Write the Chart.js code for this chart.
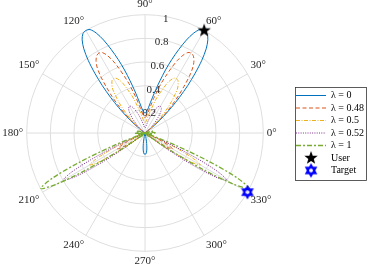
<!DOCTYPE html>
<html>
<head>
<meta charset="utf-8">
<script src="https://cdn.jsdelivr.net/npm/chart.js@4"></script>
<style>
  html, body { margin: 0; padding: 0; background: #fff; overflow: hidden; }
  #beam-chart { display: block; margin: -2px 0 0 -6px; }
</style>
</head>
<body>
<canvas id="beam-chart" width="380" height="270"></canvas>
<script>
// beam patterns, one value every 2 degrees
const angleStep = 2;
const angleTicks = [0, 30, 60, 90, 120, 150, 180, 210, 240, 270, 300, 330];
const gainTicks = [0.2, 0.4, 0.6, 0.8, 1];

// lambda = 0, 36..144 deg and back lobe 256..284 deg
const lam0Upper = [0, 0.05, 0.12, 0.21, 0.31, 0.42, 0.54, 0.66, 0.78, 0.88, 0.95, 0.99, 1,
  0.99, 0.94, 0.86, 0.76, 0.66, 0.56, 0.46, 0.38, 0.31, 0.26, 0.22, 0.195, 0.18, 0.172, 0.17,
  0.172, 0.18, 0.195, 0.22, 0.26, 0.31, 0.38, 0.46, 0.56, 0.66, 0.76, 0.86, 0.94, 0.99,
  1, 0.99, 0.95, 0.88, 0.78, 0.66, 0.54, 0.42, 0.31, 0.21, 0.12, 0.05, 0];
const lam0Back = [0, 0.03, 0.07, 0.11, 0.145, 0.168, 0.178, 0.18, 0.178, 0.168, 0.145, 0.11, 0.07, 0.03, 0];

// lambda = 0.48
const lam48Upper = [0, 0.04, 0.09, 0.16, 0.24, 0.33, 0.42, 0.51, 0.61, 0.69, 0.74, 0.77, 0.78,
  0.77, 0.73, 0.67, 0.59, 0.51, 0.44, 0.36, 0.3, 0.24, 0.2, 0.17, 0.15, 0.14, 0.134, 0.13,
  0.134, 0.14, 0.15, 0.17, 0.2, 0.24, 0.3, 0.36, 0.44, 0.51, 0.59, 0.67, 0.73, 0.77,
  0.78, 0.77, 0.74, 0.69, 0.61, 0.51, 0.42, 0.33, 0.24, 0.16, 0.09, 0.04, 0];
const lam48Lower = [0, 0.02, 0.085, 0.165, 0.235, 0.27, 0.235, 0.165, 0.085, 0.02, 0];

// lambda = 0.5
const lam50Upper = [0, 0.027, 0.064, 0.11, 0.165, 0.22, 0.29, 0.35, 0.41, 0.47, 0.5, 0.525, 0.53,
  0.525, 0.5, 0.46, 0.4, 0.35, 0.3, 0.24, 0.2, 0.165, 0.138, 0.117, 0.103, 0.095, 0.091, 0.09,
  0.091, 0.095, 0.103, 0.117, 0.138, 0.165, 0.2, 0.24, 0.3, 0.35, 0.4, 0.46, 0.5, 0.525,
  0.53, 0.525, 0.5, 0.47, 0.41, 0.35, 0.29, 0.22, 0.165, 0.11, 0.064, 0.027, 0];
const lam50Lower = [0, 0.04, 0.16, 0.32, 0.47, 0.54, 0.47, 0.32, 0.16, 0.04, 0];

// lambda = 0.52
const lam52Upper = [0, 0.013, 0.031, 0.055, 0.082, 0.11, 0.142, 0.173, 0.203, 0.229, 0.247, 0.257, 0.26,
  0.257, 0.244, 0.224, 0.198, 0.172, 0.146, 0.12, 0.099, 0.081, 0.068, 0.057, 0.051, 0.047, 0.045, 0.044,
  0.045, 0.047, 0.051, 0.057, 0.068, 0.081, 0.099, 0.12, 0.146, 0.172, 0.198, 0.224, 0.244, 0.257,
  0.26, 0.257, 0.247, 0.229, 0.203, 0.173, 0.142, 0.11, 0.082, 0.055, 0.031, 0.013, 0];
const lam52Lower = [0, 0.056, 0.23, 0.48, 0.7, 0.8, 0.7, 0.48, 0.23, 0.056, 0];

// lambda = 1, 160..230 deg and 310..380 deg (small side lobes near the origin)
const lam1Left = [0, 0.03, 0.055, 0.065, 0.05, 0.02, 0, 0.04, 0.07, 0.085, 0.085, 0.07, 0.04,
  0.005, 0.03, 0.06, 0.065, 0.05, 0.015, 0, 0.07, 0.29, 0.6, 0.87, 1, 0.87, 0.6, 0.29, 0.07, 0,
  0.03, 0.055, 0.05, 0.02, 0, 0];
const lam1Right = [0, 0, 0.02, 0.05, 0.055, 0.03, 0, 0.07, 0.29, 0.6, 0.87, 1, 0.87, 0.6, 0.29, 0.07,
  0, 0.015, 0.05, 0.065, 0.06, 0.03, 0.005, 0.04, 0.07, 0.085, 0.085, 0.07, 0.04, 0, 0.02,
  0.05, 0.065, 0.055, 0.03, 0];

const userAngle = 60, userGain = 1;
const targetAngle = 330, targetGain = 1;

// radar labels run clockwise from the top (90 deg)
const angles = [];
for (let i = 0; i < 360 / angleStep; i++) angles.push((90 - angleStep * i + 360) % 360);

function spread(segments) {
  const byDeg = {};
  segments.forEach(([start, vals]) => {
    vals.forEach((v, k) => { byDeg[(start + angleStep * k) % 360] = v; });
  });
  return angles.map(a => byDeg[a] || 0);
}

function marker(draw) {
  const c = document.createElement('canvas');
  c.width = 16; c.height = 16;
  const g = c.getContext('2d');
  g.translate(8, 8);
  draw(g);
  return c;
}

const userStar = marker(g => {
  g.beginPath();
  for (let k = 0; k < 10; k++) {
    const r = k % 2 ? 2.9 : 7;
    const a = -Math.PI / 2 + k * Math.PI / 5;
    g.lineTo(r * Math.cos(a), r * Math.sin(a));
  }
  g.closePath();
  g.fillStyle = '#000';
  g.fill();
});

const targetStar = marker(g => {
  g.strokeStyle = '#0000ff';
  g.lineWidth = 1.8;
  [-Math.PI / 2, Math.PI / 2].forEach(a0 => {
    g.beginPath();
    for (let k = 0; k < 3; k++) {
      const a = a0 + k * 2 * Math.PI / 3;
      g.lineTo(5.5 * Math.cos(a), 5.5 * Math.sin(a));
    }
    g.closePath();
    g.stroke();
  });
});

const serif = 'Liberation Serif';
const textColor = '#262626';

const legendFrame = {
  id: 'legendFrame',
  afterDraw(chart) {
    const boxes = chart.legend.legendHitBoxes;
    if (!boxes || !boxes.length) return;
    const left = Math.min(...boxes.map(b => b.left)) - 1;
    const right = Math.max(...boxes.map(b => b.left + b.width)) + 2;
    const top = Math.min(...boxes.map(b => b.top)) - 4;
    const bottom = Math.max(...boxes.map(b => b.top + b.height)) + 4;
    const ctx = chart.ctx;
    ctx.save();
    ctx.strokeStyle = '#333';
    ctx.lineWidth = 0.8;
    ctx.strokeRect(Math.round(left) + 0.5, Math.round(top) + 0.5, Math.round(right - left), Math.round(bottom - top));
    ctx.restore();
  }
};

const ctx = document.getElementById('beam-chart').getContext('2d');
new Chart(ctx, {
  type: 'radar',
  data: {
    labels: angles,
    datasets: [{
      label: 'λ = 0',
      data: spread([[36, lam0Upper], [256, lam0Back]]),
      borderColor: '#0072BD', borderWidth: 1, legendStyle: 'line', order: 5
    }, {
      label: 'λ = 0.48',
      data: spread([[36, lam48Upper], [200, lam48Lower], [320, lam48Lower]]),
      borderColor: '#D95319', borderWidth: 1, borderDash: [4, 2.5], legendStyle: 'line', order: 4
    }, {
      label: 'λ = 0.5',
      data: spread([[36, lam50Upper], [200, lam50Lower], [320, lam50Lower]]),
      borderColor: '#EDB120', borderWidth: 1, borderDash: [4, 1.5, 1, 1.5], legendStyle: 'line', order: 3
    }, {
      label: 'λ = 0.52',
      data: spread([[36, lam52Upper], [200, lam52Lower], [320, lam52Lower]]),
      borderColor: '#7E2F8E', borderWidth: 1, borderDash: [1, 1.3], legendStyle: 'line', order: 2
    }, {
      label: 'λ = 1',
      data: spread([[160, lam1Left], [310, lam1Right]]),
      borderColor: '#77AC30', borderWidth: 1.3, borderDash: [5, 2, 2, 2], legendStyle: 'line', order: 1
    }, {
      label: 'User',
      data: angles.map(a => a === userAngle ? userGain : null),
      showLine: false, pointRadius: 6, pointStyle: userStar, legendStyle: userStar,
      borderColor: '#000', order: 0
    }, {
      label: 'Target',
      data: angles.map(a => a === targetAngle ? targetGain : null),
      showLine: false, pointRadius: 6, pointStyle: targetStar, legendStyle: targetStar,
      borderColor: '#0000ff', order: 0
    }]
  },
  options: {
    responsive: false,
    animation: false,
    elements: {
      line: { tension: 0.3, fill: false, backgroundColor: 'transparent' },
      point: { radius: 0, hoverRadius: 0 }
    },
    scales: {
      r: {
        min: 0, max: 1, startAngle: 0,
        grid: { circular: true, color: '#dedede', lineWidth: 1 },
        angleLines: {
          color: '#dedede',
          lineWidth: c => angleTicks.includes(angles[c.index]) ? 1 : 0
        },
        ticks: {
          stepSize: 0.2,
          showLabelBackdrop: false,
          backdropPadding: 0,
          color: textColor,
          font: { family: serif, size: 11, lineHeight: 0.36 },
          callback: v => {
            const t = +v.toFixed(1);
            if (!gainTicks.includes(t)) return '';
            // empty first line nudges the label just below the ring
            return ['', ' '.repeat(Math.round(t * 15)) + t];
          }
        },
        pointLabels: {
          color: textColor,
          font: { family: serif, size: 11 },
          padding: -2,
          callback: a => angleTicks.includes(a) ? a + '°' : ''
        }
      }
    },
    plugins: {
      tooltip: { enabled: false },
      legend: {
        position: 'right',
        labels: {
          usePointStyle: true, pointStyleWidth: 30, boxHeight: 8, padding: 2.5,
          color: '#111', font: { family: serif, size: 10 },
          generateLabels: chart => chart.data.datasets.map((ds, i) => ({
            text: ds.label, datasetIndex: i, hidden: false,
            strokeStyle: ds.borderColor, fillStyle: 'transparent',
            lineWidth: ds.borderWidth || 1, lineDash: ds.borderDash || [],
            pointStyle: ds.legendStyle
          }))
        }
      }
    }
  },
  plugins: [legendFrame]
});
</script>
</body>
</html>
